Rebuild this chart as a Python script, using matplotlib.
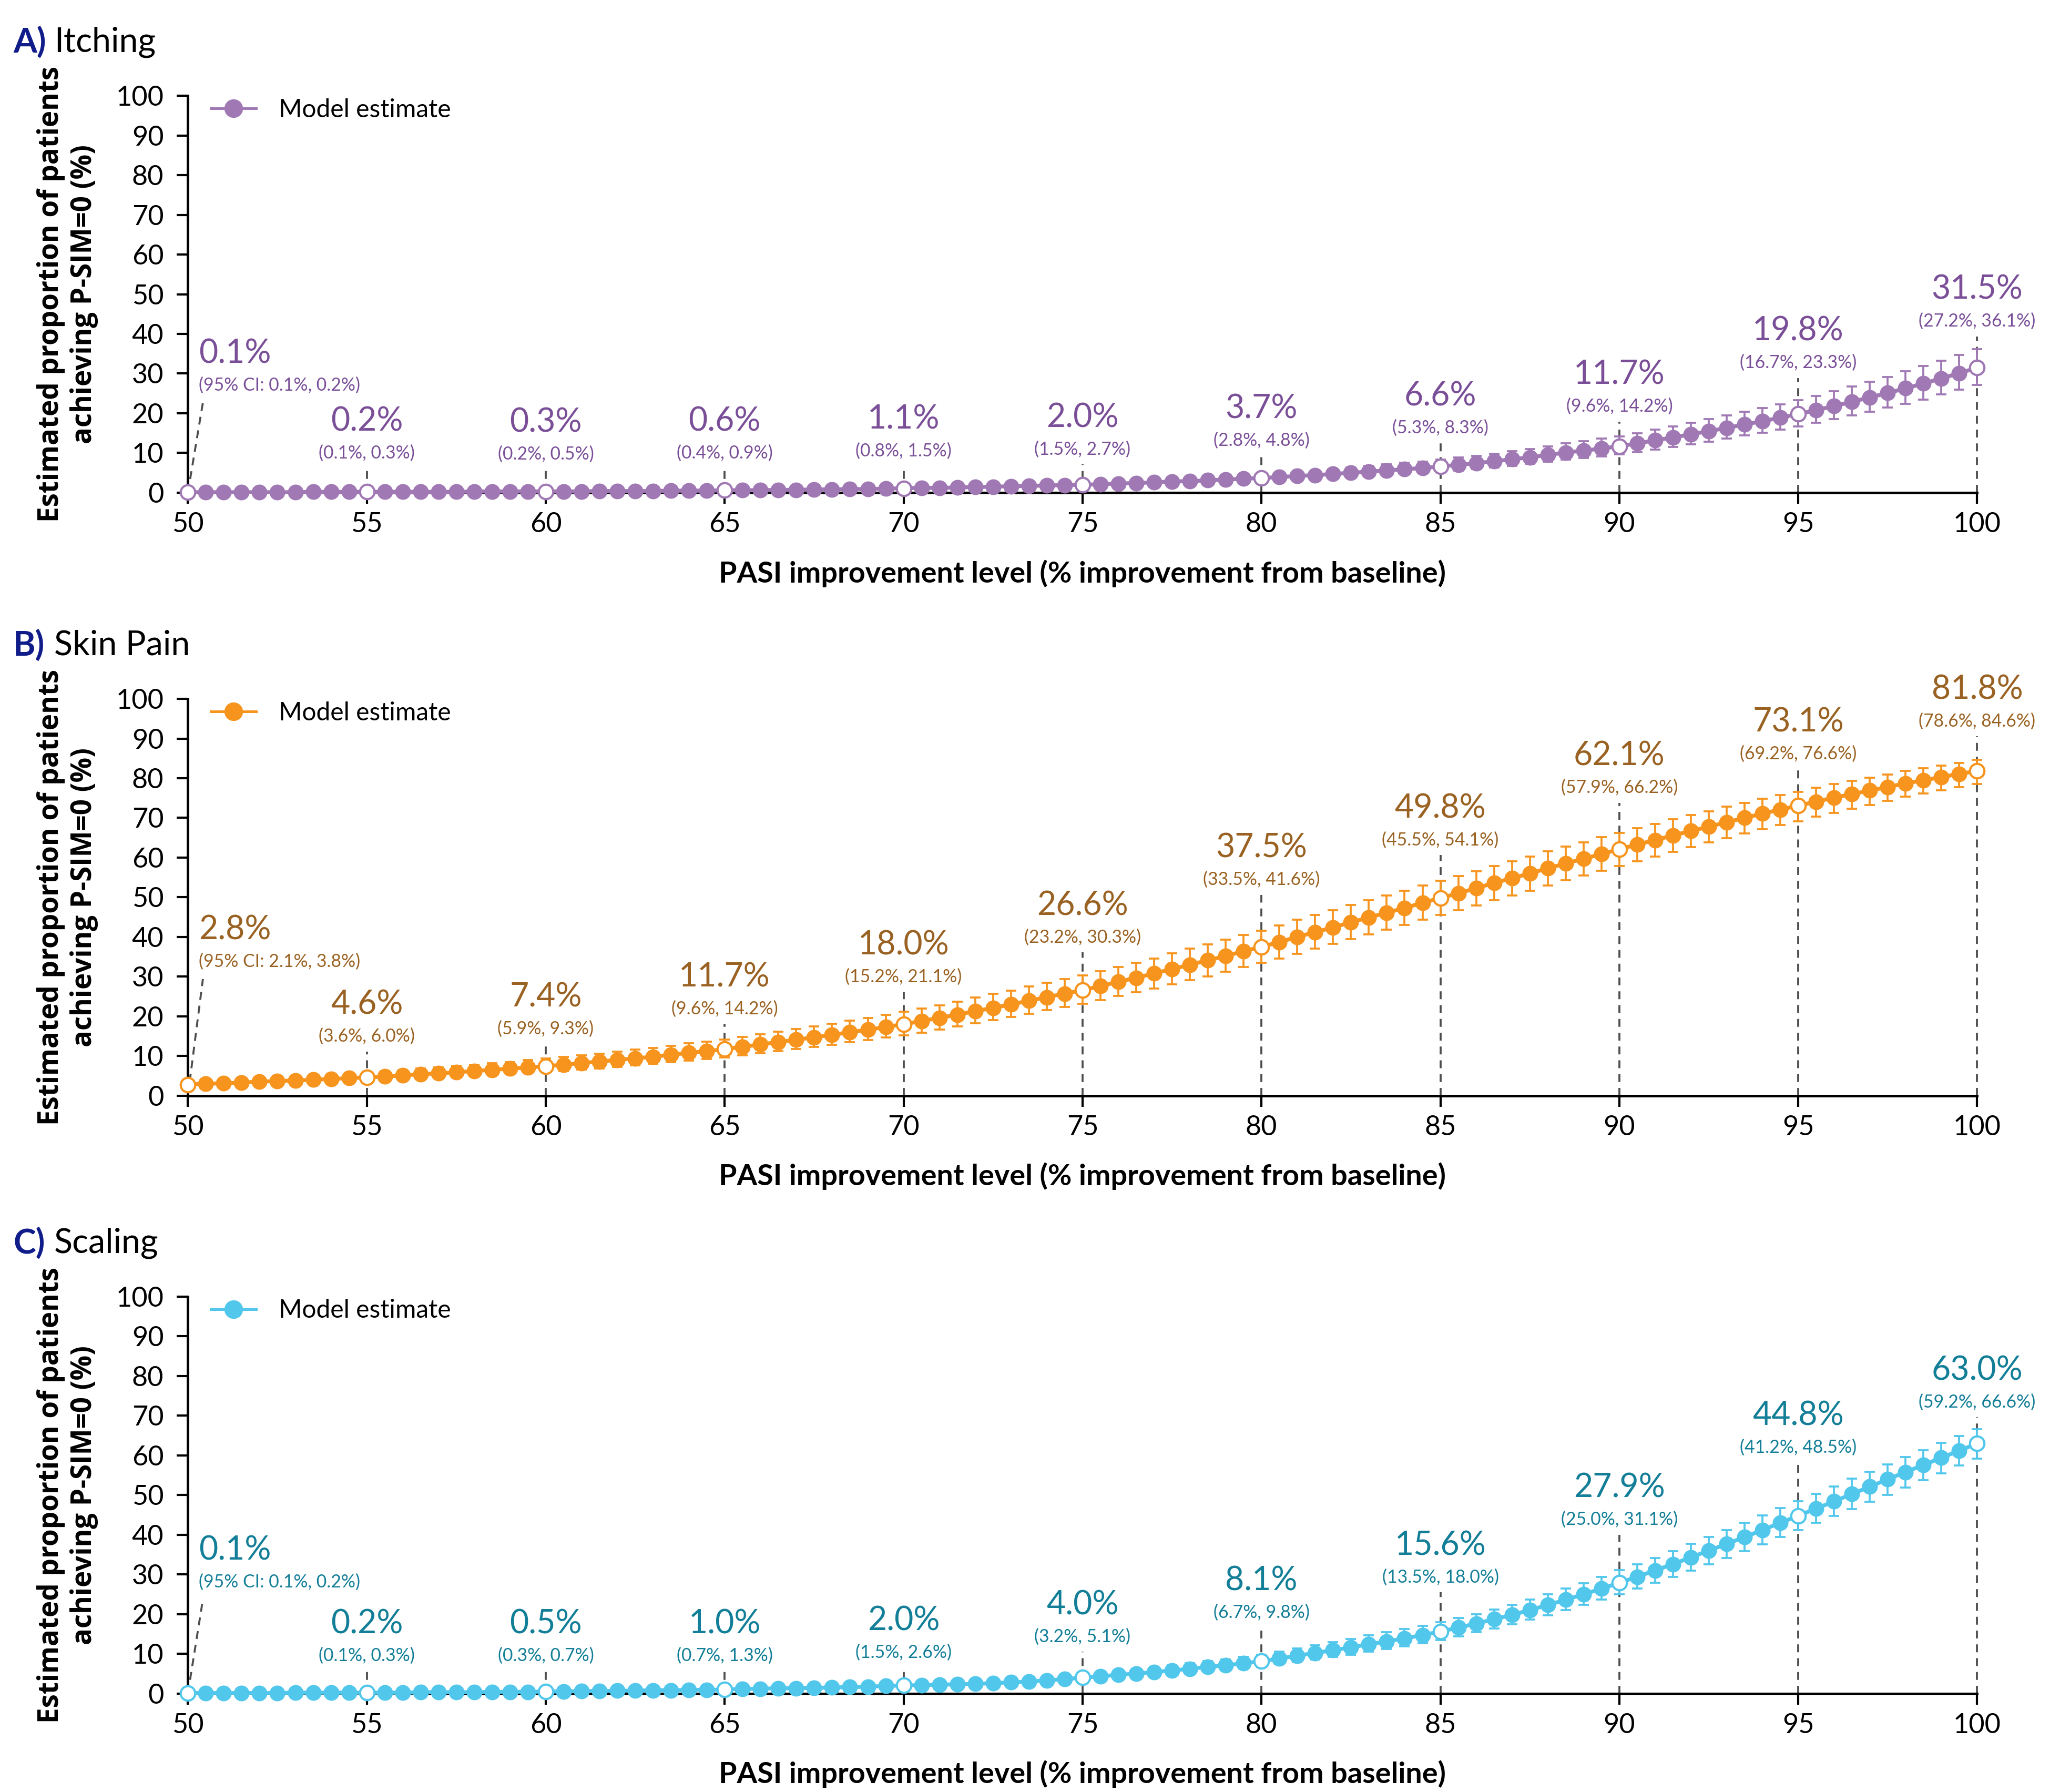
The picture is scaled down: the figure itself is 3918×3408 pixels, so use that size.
import matplotlib
matplotlib.use("Agg")
import matplotlib.pyplot as plt
from matplotlib.lines import Line2D
import numpy as np

plt.rcParams['font.family'] = ['Lato', 'DejaVu Sans']

# PASI improvement levels, every 0.5 from 50 to 100
pasi = np.arange(50, 100.5, 0.5)
anchors = [50, 55, 60, 65, 70, 75, 80, 85, 90, 95, 100]

# A) Itching
itch_est = [0.1, 0.1, 0.1, 0.1, 0.1, 0.1, 0.1, 0.2, 0.2, 0.2, 0.2,
            0.2, 0.2, 0.2, 0.2, 0.2, 0.3, 0.3, 0.3, 0.3, 0.3,
            0.3, 0.3, 0.4, 0.4, 0.4, 0.4, 0.5, 0.5, 0.5, 0.6,
            0.6, 0.6, 0.7, 0.7, 0.8, 0.8, 0.9, 0.9, 1.0, 1.1,
            1.2, 1.2, 1.3, 1.4, 1.5, 1.6, 1.7, 1.8, 1.9, 2.0,
            2.1, 2.3, 2.4, 2.6, 2.8, 2.9, 3.1, 3.3, 3.5, 3.7,
            3.9, 4.2, 4.4, 4.7, 5.0, 5.3, 5.6, 5.9, 6.2, 6.6,
            7.0, 7.4, 7.9, 8.4, 8.9, 9.5, 10.1, 10.6, 11.1, 11.7,
            12.4, 13.2, 13.9, 14.7, 15.5, 16.3, 17.2, 18.0, 18.9, 19.8,
            20.8, 21.8, 22.9, 24.0, 25.1, 26.3, 27.5, 28.8, 30.1, 31.5]
itch_lo = [0.1, 0.1, 0.1, 0.1, 0.1, 0.1, 0.1, 0.1, 0.1, 0.1, 0.1,
           0.1, 0.1, 0.1, 0.1, 0.1, 0.2, 0.2, 0.2, 0.2, 0.2,
           0.2, 0.2, 0.3, 0.3, 0.3, 0.3, 0.3, 0.3, 0.4, 0.4,
           0.4, 0.4, 0.5, 0.5, 0.6, 0.6, 0.7, 0.7, 0.7, 0.8,
           0.9, 0.9, 1.0, 1.0, 1.1, 1.2, 1.3, 1.3, 1.4, 1.5,
           1.6, 1.8, 1.8, 2.0, 2.1, 2.2, 2.4, 2.5, 2.7, 2.8,
           3.0, 3.3, 3.4, 3.7, 3.9, 4.2, 4.4, 4.7, 4.9, 5.3,
           5.6, 6.0, 6.4, 6.8, 7.3, 7.8, 8.3, 8.7, 9.1, 9.6,
           10.2, 10.9, 11.5, 12.2, 12.9, 13.6, 14.4, 15.1, 15.9, 16.7,
           17.6, 18.5, 19.4, 20.4, 21.4, 22.4, 23.5, 24.7, 25.9, 27.2]
itch_hi = [0.2, 0.2, 0.2, 0.2, 0.2, 0.2, 0.2, 0.3, 0.3, 0.3, 0.3,
           0.3, 0.3, 0.3, 0.4, 0.4, 0.4, 0.4, 0.5, 0.5, 0.5,
           0.5, 0.5, 0.6, 0.6, 0.6, 0.7, 0.7, 0.8, 0.8, 0.9,
           0.9, 0.9, 1.0, 1.0, 1.1, 1.2, 1.3, 1.3, 1.4, 1.5,
           1.6, 1.6, 1.7, 1.9, 2.0, 2.2, 2.3, 2.4, 2.6, 2.7,
           2.8, 3.0, 3.2, 3.4, 3.7, 3.8, 4.1, 4.3, 4.6, 4.8,
           5.0, 5.4, 5.6, 6.0, 6.4, 6.7, 7.1, 7.5, 7.8, 8.3,
           8.8, 9.2, 9.8, 10.4, 11.0, 11.7, 12.4, 13.0, 13.6, 14.2,
           15.0, 15.9, 16.7, 17.6, 18.5, 19.4, 20.4, 21.3, 22.3, 23.3,
           24.4, 25.5, 26.8, 28.0, 29.2, 30.6, 31.9, 33.3, 34.7, 36.1]

# B) Skin Pain
pain_est = [2.8, 3.0, 3.1, 3.3, 3.5, 3.7, 3.8, 4.0, 4.2, 4.4, 4.6,
            4.8, 5.1, 5.4, 5.6, 5.9, 6.2, 6.5, 6.8, 7.1, 7.4,
            7.8, 8.2, 8.6, 9.0, 9.4, 9.8, 10.3, 10.8, 11.2, 11.7,
            12.3, 12.9, 13.5, 14.1, 14.7, 15.3, 16.0, 16.6, 17.3, 18.0,
            18.8, 19.6, 20.4, 21.3, 22.1, 23.0, 23.9, 24.8, 25.7, 26.6,
            27.6, 28.7, 29.7, 30.8, 31.9, 33.0, 34.1, 35.2, 36.4, 37.5,
            38.7, 40.0, 41.2, 42.4, 43.7, 44.9, 46.1, 47.3, 48.6, 49.8,
            51.0, 52.3, 53.6, 54.8, 56.0, 57.3, 58.5, 59.7, 60.9, 62.1,
            63.3, 64.4, 65.6, 66.7, 67.8, 68.9, 70.0, 71.1, 72.1, 73.1,
            74.1, 75.1, 76.0, 76.9, 77.8, 78.7, 79.5, 80.3, 81.1, 81.8]
pain_lo = [2.1, 2.2, 2.3, 2.5, 2.6, 2.8, 2.9, 3.1, 3.2, 3.4, 3.6,
           3.8, 4.0, 4.2, 4.4, 4.6, 4.9, 5.1, 5.4, 5.6, 5.9,
           6.2, 6.6, 6.9, 7.3, 7.6, 8.0, 8.4, 8.8, 9.2, 9.6,
           10.1, 10.7, 11.2, 11.8, 12.3, 12.8, 13.5, 14.0, 14.6, 15.2,
           15.9, 16.7, 17.5, 18.3, 19.0, 19.8, 20.6, 21.5, 22.3, 23.2,
           24.1, 25.1, 26.0, 27.0, 28.0, 29.1, 30.1, 31.2, 32.4, 33.5,
           34.6, 35.8, 37.0, 38.2, 39.4, 40.6, 41.8, 43.0, 44.3, 45.5,
           46.7, 47.9, 49.2, 50.5, 51.7, 53.0, 54.3, 55.5, 56.7, 57.9,
           59.1, 60.2, 61.5, 62.6, 63.8, 64.9, 66.1, 67.2, 68.2, 69.2,
           70.3, 71.3, 72.3, 73.3, 74.3, 75.3, 76.2, 77.0, 77.8, 78.6]
pain_hi = [3.8, 4.0, 4.2, 4.4, 4.6, 4.8, 5.0, 5.2, 5.5, 5.7, 6.0,
           6.2, 6.5, 6.9, 7.1, 7.5, 7.8, 8.2, 8.5, 8.9, 9.3,
           9.7, 10.2, 10.6, 11.1, 11.6, 12.0, 12.6, 13.2, 13.6, 14.2,
           14.8, 15.5, 16.1, 16.8, 17.5, 18.1, 18.9, 19.6, 20.3, 21.1,
           22.0, 22.8, 23.7, 24.7, 25.6, 26.5, 27.5, 28.4, 29.4, 30.3,
           31.3, 32.4, 33.5, 34.6, 35.9, 37.0, 38.1, 39.3, 40.5, 41.6,
           42.9, 44.3, 45.5, 46.8, 48.1, 49.3, 50.5, 51.7, 53.0, 54.1,
           55.3, 56.6, 57.9, 59.1, 60.3, 61.6, 62.8, 63.9, 65.1, 66.2,
           67.4, 68.5, 69.6, 70.7, 71.7, 72.8, 73.8, 74.8, 75.7, 76.6,
           77.6, 78.5, 79.3, 80.1, 80.9, 81.8, 82.5, 83.2, 83.9, 84.6]

# C) Scaling
scal_est = [0.1, 0.1, 0.1, 0.1, 0.1, 0.1, 0.2, 0.2, 0.2, 0.2, 0.2,
            0.2, 0.2, 0.3, 0.3, 0.3, 0.3, 0.4, 0.4, 0.4, 0.5,
            0.5, 0.6, 0.6, 0.7, 0.7, 0.8, 0.8, 0.9, 0.9, 1.0,
            1.1, 1.2, 1.3, 1.3, 1.4, 1.5, 1.6, 1.7, 1.9, 2.0,
            2.1, 2.2, 2.3, 2.4, 2.6, 2.8, 3.0, 3.3, 3.6, 4.0,
            4.3, 4.7, 5.0, 5.4, 5.8, 6.2, 6.7, 7.1, 7.6, 8.1,
            8.8, 9.5, 10.2, 10.9, 11.6, 12.4, 13.1, 13.9, 14.7, 15.6,
            16.6, 17.6, 18.7, 19.8, 21.0, 22.3, 23.6, 25.0, 26.4, 27.9,
            29.4, 31.0, 32.6, 34.3, 36.0, 37.7, 39.4, 41.2, 43.0, 44.8,
            46.6, 48.4, 50.3, 52.1, 54.0, 55.8, 57.6, 59.4, 61.2, 63.0]
scal_lo = [0.1, 0.1, 0.1, 0.1, 0.1, 0.1, 0.1, 0.1, 0.1, 0.1, 0.1,
           0.1, 0.1, 0.2, 0.2, 0.2, 0.2, 0.2, 0.2, 0.3, 0.3,
           0.3, 0.4, 0.4, 0.5, 0.5, 0.5, 0.6, 0.6, 0.6, 0.7,
           0.8, 0.8, 0.9, 1.0, 1.0, 1.1, 1.2, 1.3, 1.4, 1.5,
           1.6, 1.7, 1.8, 1.9, 2.0, 2.2, 2.4, 2.6, 2.9, 3.2,
           3.4, 3.8, 4.1, 4.4, 4.7, 5.1, 5.5, 5.8, 6.3, 6.7,
           7.3, 7.9, 8.6, 9.2, 9.8, 10.6, 11.2, 11.9, 12.7, 13.5,
           14.4, 15.4, 16.4, 17.4, 18.6, 19.7, 21.0, 22.3, 23.6, 25.0,
           26.4, 27.9, 29.4, 31.0, 32.6, 34.2, 35.9, 37.6, 39.4, 41.2,
           43.0, 44.7, 46.5, 48.3, 50.1, 51.9, 53.7, 55.5, 57.4, 59.2]
scal_hi = [0.2, 0.2, 0.2, 0.2, 0.2, 0.2, 0.3, 0.3, 0.3, 0.3, 0.3,
           0.3, 0.3, 0.4, 0.4, 0.5, 0.5, 0.5, 0.6, 0.6, 0.7,
           0.7, 0.8, 0.8, 0.9, 0.9, 1.0, 1.1, 1.1, 1.2, 1.3,
           1.4, 1.5, 1.6, 1.7, 1.8, 1.9, 2.1, 2.2, 2.4, 2.6,
           2.7, 2.8, 2.9, 3.1, 3.3, 3.5, 3.8, 4.1, 4.6, 5.1,
           5.4, 5.8, 6.2, 6.6, 7.1, 7.6, 8.1, 8.6, 9.2, 9.8,
           10.5, 11.3, 12.1, 12.9, 13.7, 14.6, 15.4, 16.3, 17.1, 18.0,
           19.0, 20.0, 21.2, 22.4, 23.6, 25.0, 26.4, 27.8, 29.4, 31.1,
           32.6, 34.2, 35.9, 37.7, 39.4, 41.2, 43.0, 44.9, 46.7, 48.5,
           50.3, 52.2, 54.1, 55.9, 57.7, 59.6, 61.3, 63.1, 64.9, 66.6]

# height (in data units) of the big value label above each anchor
lbl_y_a = [35.1, 17.9, 17.7, 18.0, 18.5, 18.9, 21.1, 24.3, 29.7, 40.7, 51.2]
lbl_y_b = [41.8, 22.9, 24.8, 29.9, 37.9, 47.9, 62.4, 72.4, 85.6, 94.1, 102.4]
lbl_y_c = [36.1, 17.5, 17.5, 17.5, 18.3, 22.3, 28.4, 37.3, 51.8, 70.0, 81.4]
CI_GAP = 8.0

NAVY = '#0f1c8a'
DASH = '#4d4d4d'


def draw_panel(ax, est, lo, hi, color, txt_color, lbl_y, letter, name):
    est = np.array(est)
    lo = np.array(lo)
    hi = np.array(hi)
    is_anchor = np.isin(pasi, anchors)

    # dashed guides from the axis up to each label
    for k, a in enumerate(anchors):
        ci_y = lbl_y[k] - CI_GAP
        if a == 50:
            ax.plot([50, 50.42], [0, ci_y - 4.4], color=DASH, lw=0.9,
                    ls=(0, (4, 3)), zorder=1, clip_on=False)
        else:
            ax.plot([a, a], [0, ci_y - 3.8], color=DASH, lw=0.9,
                    ls=(0, (4, 3)), zorder=1, clip_on=False)

    ax.plot(pasi, est, color=color, lw=1.8, zorder=3, clip_on=False)
    eb = ax.errorbar(pasi, est, yerr=[est - lo, hi - est], fmt='none',
                     ecolor=color, elinewidth=0.9, capsize=2.5,
                     capthick=0.9, zorder=3)
    for art in eb.get_children():
        art.set_clip_on(False)
    ax.plot(pasi[~is_anchor], est[~is_anchor], 'o', ms=6.2, color=color,
            zorder=4, clip_on=False)
    ax.plot(pasi[is_anchor], est[is_anchor], 'o', ms=6.6, mfc='white',
            mec=color, mew=1.0, zorder=5, clip_on=False)

    # value + CI labels at every 5 points
    for k, a in enumerate(anchors):
        i = int(round((a - 50) * 2))
        big = f"{est[i]:.1f}%"
        if a == 50:
            ci = f"(95% CI: {lo[i]:.1f}%, {hi[i]:.1f}%)"
            x, ha = 50.3, 'left'
        else:
            ci = f"({lo[i]:.1f}%, {hi[i]:.1f}%)"
            x, ha = a, 'center'
        ax.text(x, lbl_y[k], big, fontsize=15, color=txt_color,
                ha=ha, va='center')
        ax.text(x, lbl_y[k] - CI_GAP, ci, fontsize=8.1, color=txt_color,
                ha=ha, va='center')

    ax.set_xlim(50, 100)
    ax.set_ylim(0, 100)
    ax.set_xticks(range(50, 101, 5))
    ax.set_yticks(range(0, 101, 10))
    for s in ['top', 'right']:
        ax.spines[s].set_visible(False)
    for s in ['left', 'bottom']:
        ax.spines[s].set_linewidth(1.2)
    ax.tick_params(axis='both', direction='out', length=5, width=1,
                   labelsize=12.5, pad=4)
    ax.tick_params(axis='y', pad=6)

    handle = Line2D([0], [0], color=color, lw=1.2, marker='o', ms=7.5)
    ax.legend(handles=[handle], labels=['Model estimate'], loc='center left',
              bbox_to_anchor=(0.003, 0.965), frameon=False, fontsize=11.5,
              handlelength=1.8, handletextpad=0.9, borderaxespad=0.3)

    pos = ax.get_position()
    fig = ax.figure
    fig.text(0.0328, pos.y0 + pos.height / 2,
             "Estimated proportion of patients\nachieving P-SIM=0 (%)",
             rotation=90, ha='center', va='center', fontsize=12.7,
             fontweight='bold', family=['Open Sans', 'DejaVu Sans'],
             linespacing=1.2)
    fig.text(pos.x0 + pos.width / 2, pos.y0 - 0.045,
             "PASI improvement level (% improvement from baseline)",
             ha='center', va='center', fontsize=13.4, fontweight='bold')
    fig.text(0.0064, pos.y1 + 0.030, letter, ha='left', va='center',
             fontsize=15.5, fontweight='bold', color=NAVY)
    fig.text(0.0262, pos.y1 + 0.030, name, ha='left', va='center',
             fontsize=15.5, color='black')


fig = plt.figure(figsize=(13.06, 11.36), dpi=300)
ax_a = fig.add_axes([0.0912, 0.7251, 0.8686, 0.2214])
ax_b = fig.add_axes([0.0912, 0.3886, 0.8686, 0.2214])
ax_c = fig.add_axes([0.0912, 0.0550, 0.8686, 0.2214])

draw_panel(ax_a, itch_est, itch_lo, itch_hi, '#a079b4', '#7a4f98',
           lbl_y_a, 'A)', 'Itching')
draw_panel(ax_b, pain_est, pain_lo, pain_hi, '#f7941d', '#9a6222',
           lbl_y_b, 'B)', 'Skin Pain')
draw_panel(ax_c, scal_est, scal_lo, scal_hi, '#52c7ec', '#127e97',
           lbl_y_c, 'C)', 'Scaling')

fig.savefig('out.png', dpi=300)
